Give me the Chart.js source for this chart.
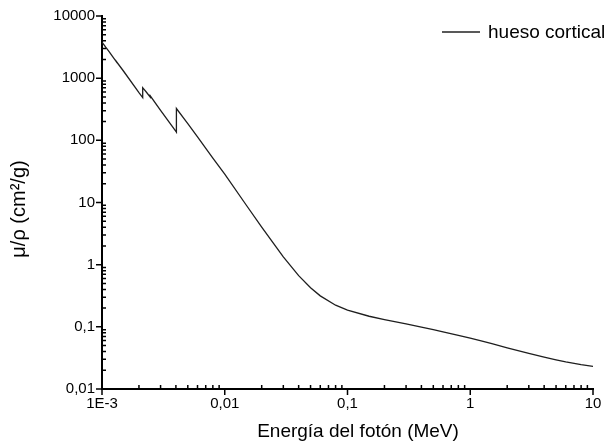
<!DOCTYPE html>
<html><head><meta charset="utf-8">
<script src="https://cdn.jsdelivr.net/npm/chart.js@4/dist/chart.umd.min.js"></script>
<style>html,body{margin:0;padding:0;background:#fff}#wrap{width:613px;height:446px}</style>
</head><body><div id="wrap"><canvas id="c" width="613" height="446"></canvas></div>
<script>
// photon energy (MeV)
const energies = [0.001, 0.0010354, 0.0010721, 0.0010721, 0.0011424, 0.0012172, 0.001305, 0.001305, 0.0015, 0.002,
  0.0021455, 0.0021455, 0.002303, 0.002472, 0.002472, 0.003, 0.004, 0.0040381, 0.0040381, 0.005, 0.006, 0.008,
  0.01, 0.015, 0.02, 0.03, 0.04, 0.05, 0.06, 0.08, 0.1, 0.15, 0.2, 0.3, 0.4, 0.5, 0.6, 0.8,
  1, 1.25, 1.5, 2, 3, 4, 5, 6, 8, 10];
// mass attenuation coefficient, hueso cortical (cm2/g)
const muRho = [3781, 3452, 3150, 3156, 2664, 2248, 1850, 1868, 1292, 586.4,
  488.1, 702.4, 593.7, 495.3, 520.3, 304.6, 139.2, 135.6, 324.9, 185.5, 114.1, 51.85,
  28.51, 9.032, 4.001, 1.331, 0.6655, 0.4242, 0.3148, 0.2229, 0.1855, 0.148, 0.1309, 0.1113, 0.09908, 0.09022, 0.08332, 0.07308,
  0.06566, 0.05871, 0.05346, 0.04607, 0.03745, 0.03257, 0.02946, 0.02734, 0.02467, 0.02314];
const xTickValues = [0.001, 0.01, 0.1, 1, 10];
const xTickLabels = ['1E-3', '0,01', '0,1', '1', '10'];
const yTickValues = [0.01, 0.1, 1, 10, 100, 1000, 10000];
const yTickLabels = ['0,01', '0,1', '1', '10', '100', '1000', '10000'];
const seriesName = 'hueso cortical';
const xTitle = 'Energía del fotón (MeV)';
const yTitle = 'μ/ρ (cm²/g)';

const FONT = '"Liberation Sans", Arial, sans-serif';

const decorPlugin = {
  id: 'decor',
  afterDraw(chart) {
    const ctx = chart.ctx;
    const xs = chart.scales.x, ys = chart.scales.y;
    const ca = chart.chartArea;
    ctx.save();
    ctx.strokeStyle = '#000';
    ctx.lineWidth = 1.5;
    ctx.beginPath();
    // x ticks
    for (let e = -3; e <= 1; e++) {
      const p = xs.getPixelForValue(Math.pow(10, e));
      ctx.moveTo(p, ca.bottom); ctx.lineTo(p, ca.bottom + 6);
      if (e < 1) for (let k = 2; k <= 9; k++) {
        const q = xs.getPixelForValue(k * Math.pow(10, e));
        ctx.moveTo(q, ca.bottom); ctx.lineTo(q, ca.bottom - 4);
      }
    }
    // y ticks
    for (let e = -2; e <= 4; e++) {
      const p = ys.getPixelForValue(Math.pow(10, e));
      ctx.moveTo(ca.left, p); ctx.lineTo(ca.left - 6, p);
      if (e < 4) for (let k = 2; k <= 9; k++) {
        const q = ys.getPixelForValue(k * Math.pow(10, e));
        ctx.moveTo(ca.left, q); ctx.lineTo(ca.left + 4, q);
      }
    }
    ctx.stroke();
    // axis titles
    ctx.fillStyle = '#000';
    ctx.font = '19px ' + FONT;
    ctx.textAlign = 'center';
    ctx.textBaseline = 'alphabetic';
    ctx.fillText(xTitle, 358, 437);
    ctx.save();
    ctx.translate(25, 209);
    ctx.rotate(-Math.PI / 2);
    ctx.font = '20px ' + FONT;
    ctx.fillText(yTitle, 0, 0);
    ctx.restore();
    // legend
    ctx.strokeStyle = '#222';
    ctx.lineWidth = 1.3;
    ctx.beginPath();
    ctx.moveTo(442, 32); ctx.lineTo(480, 32);
    ctx.stroke();
    ctx.textAlign = 'left';
    ctx.font = '19px ' + FONT;
    ctx.fillText(seriesName, 488, 38);
    ctx.restore();
  }
};

new Chart(document.getElementById('c'), {
  type: 'line',
  data: {
    datasets: [{
      label: seriesName,
      data: energies.map((x, i) => ({ x: x, y: muRho[i] })),
      borderColor: '#1e1e1e',
      borderWidth: 1.3,
      pointRadius: 0,
      tension: 0,
      fill: false
    }]
  },
  options: {
    responsive: false,
    animation: false,
    devicePixelRatio: 1,
    layout: { padding: { top: 15, right: 20, left: 0, bottom: 0 } },
    plugins: { legend: { display: false }, tooltip: { enabled: false } },
    scales: {
      x: {
        type: 'logarithmic', min: 0.001, max: 10, position: 'bottom',
        afterFit: s => { s.height = 57; },
        afterBuildTicks: s => { s.ticks = xTickValues.map(v => ({ value: v })); },
        ticks: {
          callback: v => { const i = xTickValues.indexOf(v); return i >= 0 ? xTickLabels[i] : ''; },
          font: { family: FONT, size: 15 }, color: '#000', maxRotation: 0, autoSkip: false, padding: 6
        },
        grid: { display: false, drawTicks: false, tickLength: 0 },
        border: { display: true, color: '#000', width: 2 }
      },
      y: {
        type: 'logarithmic', min: 0.01, max: 10000, position: 'left',
        afterFit: s => { s.width = 102; },
        afterBuildTicks: s => { s.ticks = yTickValues.map(v => ({ value: v })); },
        ticks: {
          callback: v => { const i = yTickValues.indexOf(v); return i >= 0 ? yTickLabels[i] : ''; },
          font: { family: FONT, size: 15 }, color: '#000', autoSkip: false, padding: 7
        },
        grid: { display: false, drawTicks: false, tickLength: 0 },
        border: { display: true, color: '#000', width: 2 }
      }
    }
  },
  plugins: [decorPlugin]
});
</script>
</body></html>
